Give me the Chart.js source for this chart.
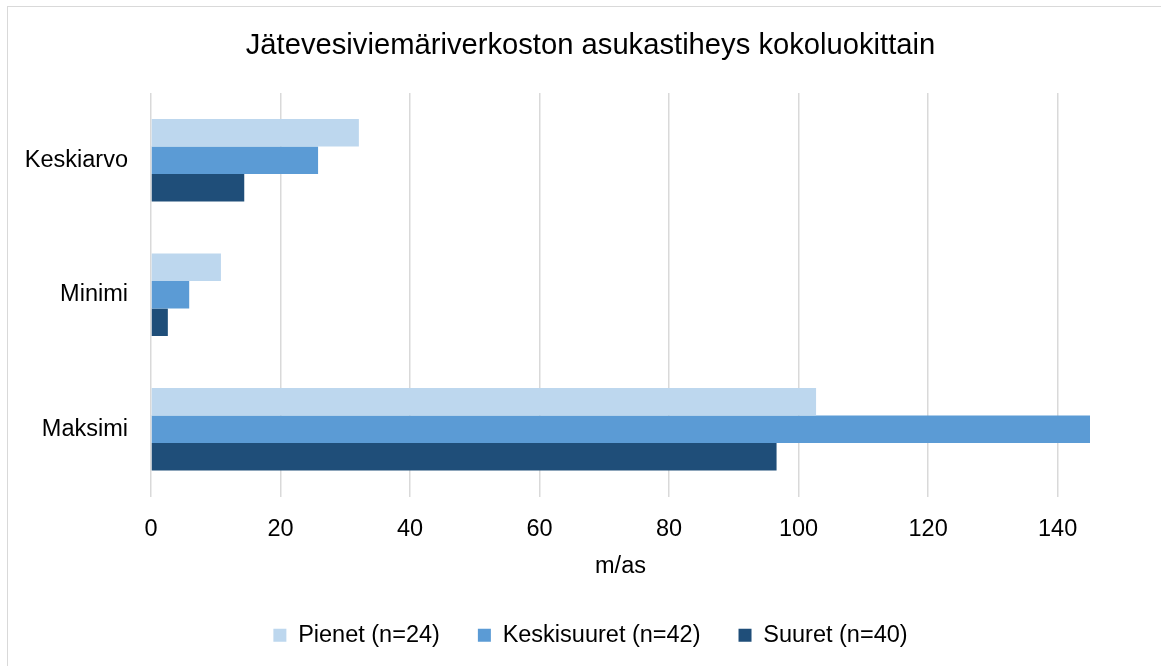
<!DOCTYPE html>
<html>
<head>
<meta charset="utf-8">
<script src="https://cdn.jsdelivr.net/npm/chart.js@4/dist/chart.umd.min.js"></script>
<style>
  html, body { margin: 0; padding: 0; background: #fff; }
  #wrap { position: relative; width: 1161px; height: 666px; }
  #frame { position: absolute; left: 7px; top: 6px; right: -2px; bottom: -2px;
           border-left: 1px solid #d9d9d9; border-top: 1px solid #d9d9d9; }
  canvas { position: absolute; left: 0; top: 0; }
</style>
</head>
<body>
<div id="wrap">
  <div id="frame"></div>
  <canvas id="chart" width="1161" height="666"></canvas>
</div>
<script>
// values (m/as)
const categories = ['Keskiarvo', 'Minimi', 'Maksimi'];
const seriesNames = ['Pienet (n=24)', 'Keskisuuret (n=42)', 'Suuret (n=40)'];
const pienet = [32.1, 10.8, 102.7];
const keskisuuret = [25.8, 5.9, 145.0];
const suuret = [14.4, 2.6, 96.6];
const xTicks = [0, 20, 40, 60, 80, 100, 120, 140];

const colors = ['#bdd7ee', '#5b9bd5', '#1f4e79'];
const font = 'Liberation Sans, Arial, sans-serif';
const fs = 23.5;

const ctx = document.getElementById('chart');

new Chart(ctx, {
    type: 'bar',
    data: {
        labels: categories,
        datasets: [pienet, keskisuuret, suuret].map((vals, i) => ({
            label: seriesNames[i],
            data: vals,
            backgroundColor: colors[i],
            borderWidth: 0,
            categoryPercentage: 0.613,
            barPercentage: 1.0
        }))
    },
    options: {
        indexAxis: 'y',
        responsive: false,
        animation: false,
        layout: { padding: { left: 20, right: 0, top: 0, bottom: 9 } },
        scales: {
            x: {
                min: 0,
                max: 145,
                afterBuildTicks: (scale) => {
                    scale.ticks = xTicks.map(v => ({ value: v }));
                },
                afterFit: (scale) => { scale.height = 89; },
                grid: { color: '#d9d9d9', lineWidth: 1.5, drawTicks: false },
                border: { display: false },
                ticks: { color: '#000', padding: 19, font: { family: font, size: fs } },
                title: {
                    display: true,
                    text: 'm/as',
                    color: '#000',
                    padding: { top: 0, bottom: 5 },
                    font: { family: font, size: fs }
                }
            },
            y: {
                afterFit: (scale) => { scale.width = 131; },
                grid: { display: false },
                border: { display: false },
                ticks: { color: '#000', padding: 15, font: { family: font, size: fs } }
            },
            // empty right-hand axis, only keeps the plot area's right edge in place
            yRight: {
                type: 'category',
                position: 'right',
                afterFit: (scale) => { scale.width = 71; },
                grid: { display: false },
                border: { display: false },
                ticks: { display: false }
            }
        },
        plugins: {
            title: {
                display: true,
                text: 'Jätevesiviemäriverkoston asukastiheys kokoluokittain',
                color: '#000',
                padding: { top: 28, bottom: 30 },
                font: { family: font, size: 29.2, weight: 'normal' }
            },
            legend: {
                position: 'bottom',
                labels: {
                    color: '#000',
                    boxWidth: 13,
                    boxHeight: 13,
                    padding: 38,
                    font: { family: font, size: fs }
                }
            },
            tooltip: { enabled: false }
        }
    }
});
</script>
</body>
</html>
